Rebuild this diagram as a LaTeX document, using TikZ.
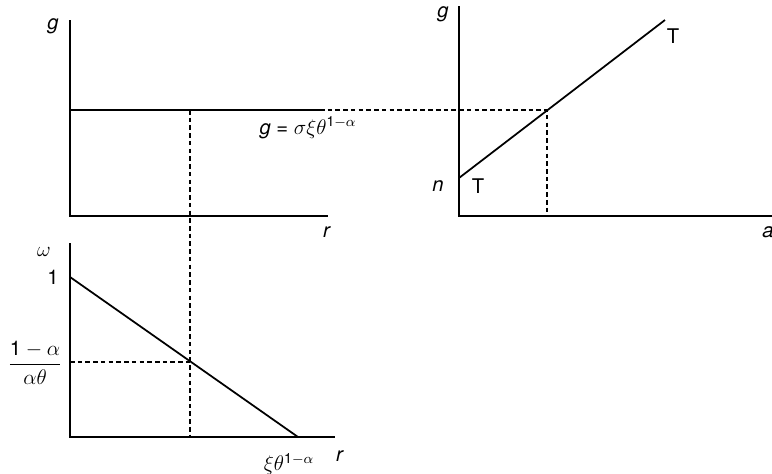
\documentclass[tikz,border=0pt]{standalone}
\usepackage{amsmath}
\usepackage{fontspec}
\setmainfont{TeX Gyre Heros}

\tikzset{
  axisline/.style={line width=0.8pt},
  curve/.style={line width=1pt},
  guide/.style={line width=0.6pt, dash pattern=on 2.6pt off 1.8pt},
  lbl/.style={inner sep=1pt, font=\fontsize{11.5}{13}\selectfont},
}

\begin{document}
\begin{tikzpicture}[x=0.02cm, y=-0.02cm]
        \useasboundingbox (0,0) rectangle (772,474);

        % Top left panel: g against r
        \coordinate (tlO) at (70,216);
        \draw[axisline] (70,20) -- (tlO) -- (328,216);
        \node[lbl] (tlG) at (53,26) {\textit{g}};
        \node[lbl] (tlR) at (327,232) {\textit{r}};
        \coordinate (gA) at (70,110);
        \coordinate (gB) at (320,110);
        \draw[curve] (gA) -- (gB);
        \node[lbl] (gLab) at (308,128) {\textit{g} = $\sigma\xi\theta^{\text{1}-\alpha}$};

        % Top right panel: g against a
        \coordinate (trO) at (459,216);
        \draw[axisline] (459,6) -- (trO) -- (772,216);
        \node[lbl] (trG) at (443,14) {\textit{g}};
        \node[lbl] (trN) at (438,186) {\textit{n}};
        \node[lbl] (trA) at (768,232) {\textit{a}};
        \coordinate (tLow) at (459,178);
        \coordinate (tHigh) at (665,20);
        \draw[curve] (tLow) -- (tHigh);
        \node[lbl] (tLowLab) at (478,186) {T};
        \node[lbl] (tHighLab) at (673,36) {T};
        \coordinate (tMeet) at (547,110);

        % Bottom left panel: omega against r
        \coordinate (blO) at (70,437);
        \draw[axisline] (70,243) -- (blO) -- (335,437);
        \node[lbl] (blW) at (44,252) {$\omega$};
        \node[lbl] (blR) at (340,456) {\textit{r}};
        \coordinate (wTop) at (70,277);
        \coordinate (wEnd) at (298,437);
        \draw[curve] (wTop) -- (wEnd);
        \node[lbl] (oneLab) at (53,277) {1};
        \node[lbl] (fracLab) at (35,363) {$\dfrac{\text{1}-\alpha}{\alpha\theta}$};
        \node[lbl] (xiLab) at (289,464) {$\xi\theta^{\text{1}-\alpha}$};
        \coordinate (wMeet) at (190,362);

        % Dashed guides
        \draw[guide] (gB) -- (tMeet) -- (547,216);
        \draw[guide] (190,110) -- (wMeet) -- (190,437);
        \draw[guide] (70,362) -- (wMeet);
\end{tikzpicture}
\end{document}
